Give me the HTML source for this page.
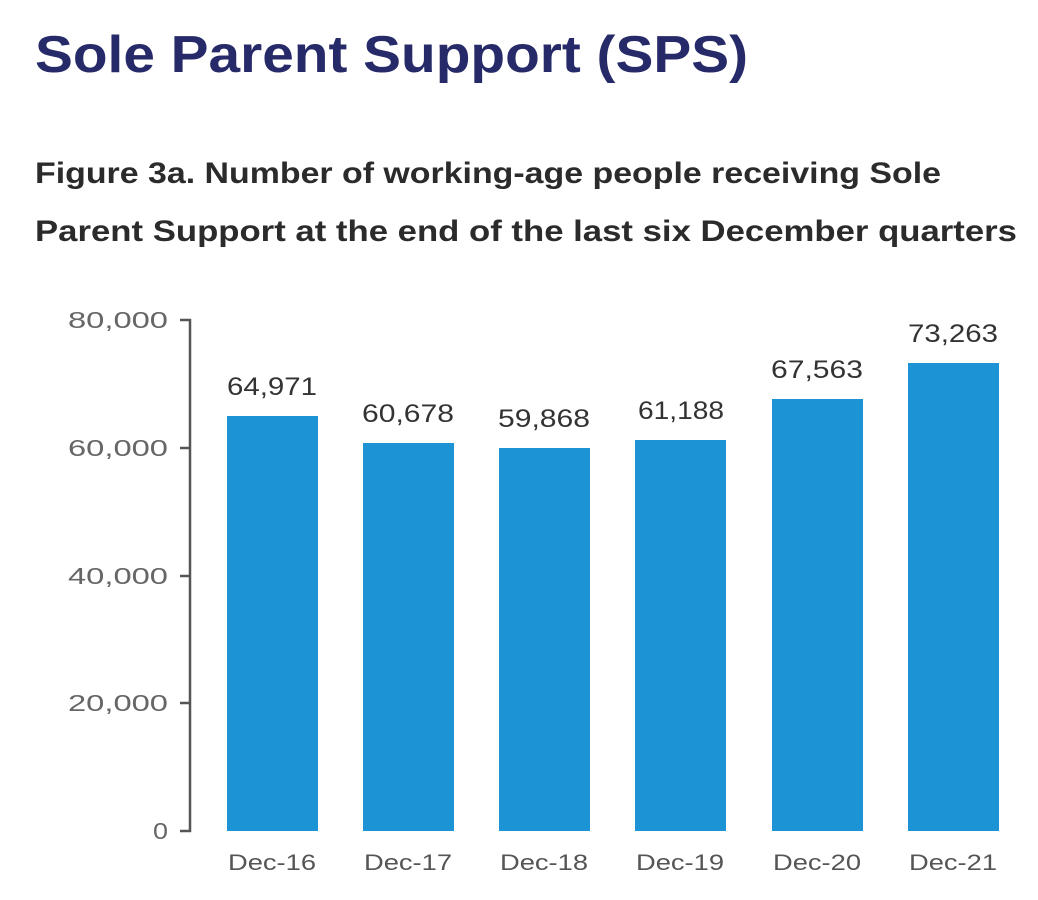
<!DOCTYPE html>
<html><head><meta charset="utf-8"><style>
html,body{margin:0;padding:0;background:#fff;}
svg{display:block;}
</style></head><body>
<svg width="1038" height="900" viewBox="0 0 1038 900" xmlns="http://www.w3.org/2000/svg" font-family="Liberation Sans, sans-serif">
<text x="35" y="72" font-size="52" font-weight="bold" fill="#272a68" textLength="713" lengthAdjust="spacingAndGlyphs">Sole Parent Support (SPS)</text>
<text x="35" y="183" font-size="30" font-weight="bold" fill="#2b2b2b" textLength="906" lengthAdjust="spacingAndGlyphs">Figure 3a. Number of working-age people receiving Sole</text>
<text x="35" y="241" font-size="30" font-weight="bold" fill="#2b2b2b" textLength="982" lengthAdjust="spacingAndGlyphs">Parent Support at the end of the last six December quarters</text>
<g stroke="#555" stroke-width="2.5" fill="none">
<line x1="190" y1="319" x2="190" y2="832"/>
<line x1="180" y1="320" x2="191" y2="320"/>
<line x1="180" y1="448" x2="191" y2="448"/>
<line x1="180" y1="576" x2="191" y2="576"/>
<line x1="180" y1="703" x2="191" y2="703"/>
<line x1="180" y1="831" x2="191" y2="831"/>
</g>
<g font-size="23" fill="#666" lengthAdjust="spacingAndGlyphs">
<text x="68" y="328" textLength="100" lengthAdjust="spacingAndGlyphs">80,000</text>
<text x="68" y="456" textLength="100" lengthAdjust="spacingAndGlyphs">60,000</text>
<text x="68" y="584" textLength="100" lengthAdjust="spacingAndGlyphs">40,000</text>
<text x="68" y="711" textLength="100" lengthAdjust="spacingAndGlyphs">20,000</text>
<text x="153" y="839" textLength="15" lengthAdjust="spacingAndGlyphs">0</text>
</g>
<g fill="#1b93d5">
<rect x="227" y="416" width="91" height="415"/>
<rect x="363" y="443" width="91" height="388"/>
<rect x="499" y="448" width="91" height="383"/>
<rect x="635" y="440" width="91" height="391"/>
<rect x="772" y="399" width="91" height="432"/>
<rect x="908" y="363" width="91" height="468"/>
</g>
<g font-size="25" fill="#333">
<text x="227" y="395" textLength="90" lengthAdjust="spacingAndGlyphs">64,971</text>
<text x="362" y="422" textLength="92" lengthAdjust="spacingAndGlyphs">60,678</text>
<text x="498" y="427" textLength="92" lengthAdjust="spacingAndGlyphs">59,868</text>
<text x="638" y="419" textLength="86" lengthAdjust="spacingAndGlyphs">61,188</text>
<text x="771" y="378" textLength="92" lengthAdjust="spacingAndGlyphs">67,563</text>
<text x="908" y="342" textLength="90" lengthAdjust="spacingAndGlyphs">73,263</text>
</g>
<g font-size="22" fill="#555">
<text x="228" y="870" textLength="88" lengthAdjust="spacingAndGlyphs">Dec-16</text>
<text x="364" y="870" textLength="88" lengthAdjust="spacingAndGlyphs">Dec-17</text>
<text x="500" y="870" textLength="88" lengthAdjust="spacingAndGlyphs">Dec-18</text>
<text x="636" y="870" textLength="88" lengthAdjust="spacingAndGlyphs">Dec-19</text>
<text x="773" y="870" textLength="88" lengthAdjust="spacingAndGlyphs">Dec-20</text>
<text x="909" y="870" textLength="88" lengthAdjust="spacingAndGlyphs">Dec-21</text>
</g>
</svg>
</body></html>
